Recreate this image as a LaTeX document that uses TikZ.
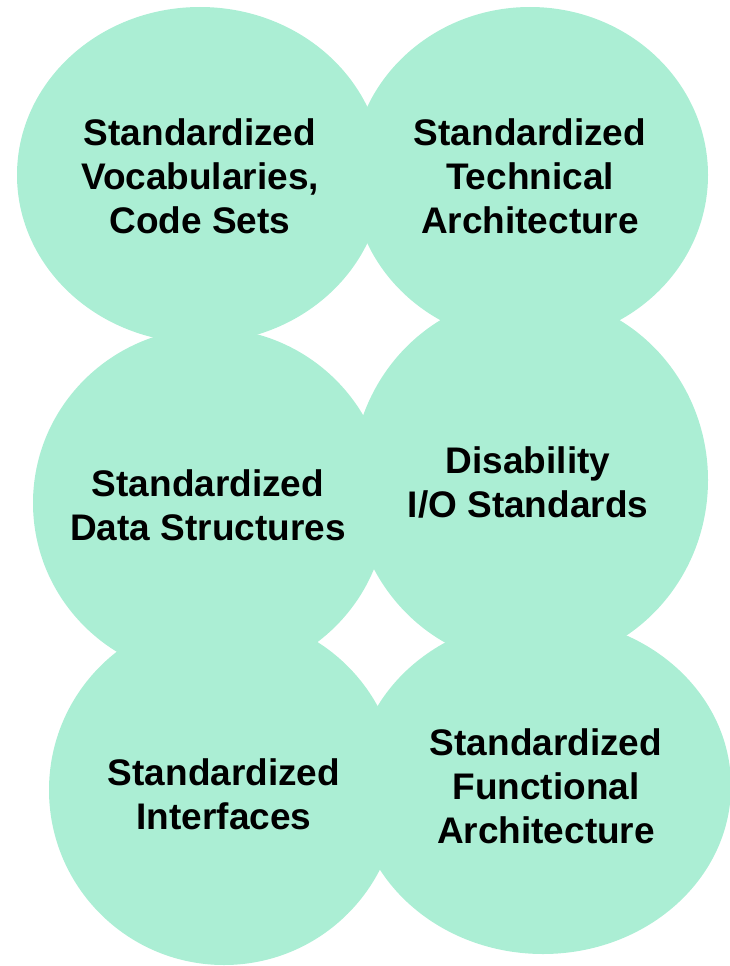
\documentclass[tikz,border=0pt]{standalone}
\usepackage{fontspec}
\setmainfont{Liberation Sans}
\usepackage{xcolor}
\definecolor{mint}{RGB}{171,238,212}

\begin{document}
\begin{tikzpicture}[x=1pt, y=-1pt,
  blob/.style={fill=mint},
  caption/.style={
    inner sep=0pt, align=center,
    font=\fontsize{37}{44}\selectfont\bfseries
  }]

%% ── Page frame ───────────────────────────────────────────────────────────────
\useasboundingbox (0,0) rectangle (729,966);

%% ── Bubbles ──────────────────────────────────────────────────────────────────
\path[blob] (200,175) ellipse [x radius=183, y radius=168];
\path[blob] (530,175) ellipse [x radius=178, y radius=168];
\path[blob] (210,503) ellipse [x radius=177, y radius=175];
\path[blob] (530,480) ellipse [x radius=178, y radius=185];
\path[blob] (224,790) ellipse [x radius=175, y radius=175];
\path[blob] (543,786) ellipse [x radius=188, y radius=168];

%% ── Labels ───────────────────────────────────────────────────────────────────
\node[caption] (vocab)    at (200,176) {Standardized\\Vocabularies,\\Code Sets};
\node[caption] (techarch) at (530,176) {Standardized\\Technical\\Architecture};
\node[caption] (data)     at (208,505) {Standardized\\Data Structures};
\node[caption] (disab)    at (528,482) {Disability\\I/O Standards};
\node[caption] (iface)    at (224,794) {Standardized\\Interfaces};
\node[caption] (funcarch) at (546,786) {Standardized\\Functional\\Architecture};

\end{tikzpicture}
\end{document}
